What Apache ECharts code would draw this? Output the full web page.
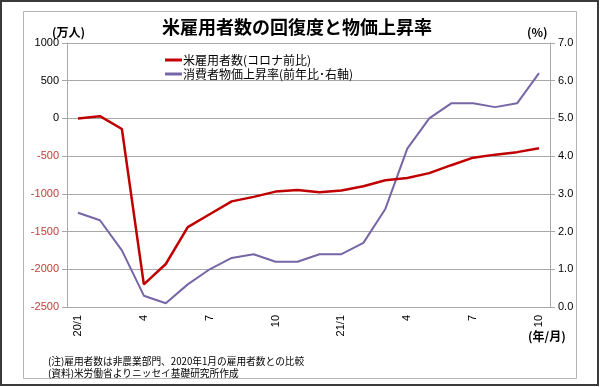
<!DOCTYPE html>
<html>
<head>
<meta charset="utf-8">
<script src="https://cdn.jsdelivr.net/npm/echarts@6/dist/echarts.min.js"></script>
<style>
html,body{margin:0;padding:0;background:#fff;}
#c{width:600px;height:387px;}
</style>
</head>
<body>
<div id="c"></div>
<script>
// ---- data ----
var categories = ["20/1","2","3","4","5","6","7","8","9","10","11","12",
                  "21/1","2","3","4","5","6","7","8","9","10"];
var employment = [0, 30, -140, -2200, -1930, -1440, -1270, -1100, -1040, -970, -950, -980,
                  -955, -900, -820, -790, -725, -620, -520, -480, -447, -394];
var cpi = [2.5, 2.3, 1.5, 0.3, 0.1, 0.6, 1.0, 1.3, 1.4, 1.2, 1.2, 1.4,
           1.4, 1.7, 2.6, 4.2, 5.0, 5.4, 5.4, 5.3, 5.4, 6.2];
var seriesNames = ["米雇用者数(コロナ前比)", "消費者物価上昇率(前年比･右軸)"];
var leftTicks = {min: -2500, max: 1000, interval: 500};
var rightTicks = {min: 0, max: 7, interval: 1};

var JP = '"Noto Sans CJK JP", sans-serif';
var NUM = '"Liberation Sans", "Noto Sans CJK JP", sans-serif';

var chart = echarts.init(document.getElementById('c'), null, {renderer: 'canvas'});
chart.setOption({
  backgroundColor: '#fff',
  animation: false,
  title: [
    {text: '米雇用者数の回復度と物価上昇率', left: 162, top: 18, padding: 0,
     textStyle: {fontFamily: JP, fontSize: 18, fontWeight: 'bold', color: '#000'}},
    {text: '(万人)', left: 52, top: 26, padding: 0,
     textStyle: {fontFamily: JP, fontSize: 12, fontWeight: 'bold', color: '#000'}},
    {text: '(%)', left: 527, top: 26, padding: 0,
     textStyle: {fontFamily: JP, fontSize: 12, fontWeight: 'bold', color: '#000'}},
    {text: '(年/月)', left: 528, top: 330, padding: 0,
     textStyle: {fontFamily: JP, fontSize: 12, fontWeight: 'bold', color: '#000'}},
    {text: '(注)雇用者数は非農業部門、2020年1月の雇用者数との比較', left: 48, top: 356, padding: 0,
     textStyle: {fontFamily: JP, fontSize: 9.7, fontWeight: 'normal', color: '#000'}},
    {text: '(資料)米労働省よりニッセイ基礎研究所作成', left: 48, top: 368, padding: 0,
     textStyle: {fontFamily: JP, fontSize: 9.7, fontWeight: 'normal', color: '#000'}}
  ],
  graphic: [
    {type: 'rect', silent: true, shape: {x: 1, y: 1, width: 597, height: 384},
     style: {fill: 'none', stroke: '#3a3a3a', lineWidth: 2}},
    {type: 'rect', silent: true, shape: {x: 23.5, y: 11.5, width: 553, height: 367},
     style: {fill: 'none', stroke: '#b4b4b4', lineWidth: 1}}
  ],
  legend: {
    orient: 'vertical', left: 165, top: 53, padding: 0,
    icon: 'rect', itemWidth: 17, itemHeight: 3, itemGap: 0,
    textStyle: {fontFamily: JP, fontSize: 12, color: '#000', padding: [0, 0, 0, -4], lineHeight: 14},
    data: seriesNames
  },
  grid: {left: 67, right: 50, top: 43, bottom: 80, containLabel: false},
  xAxis: {
    type: 'category', data: categories, boundaryGap: true,
    axisLine: {lineStyle: {color: '#a8a8a8', width: 1}},
    axisTick: {show: false},
    axisLabel: {interval: 2, rotate: 90, margin: 8, fontFamily: NUM, fontSize: 11, color: '#000'}
  },
  yAxis: [
    {type: 'value', min: leftTicks.min, max: leftTicks.max, interval: leftTicks.interval,
     axisLine: {show: true, lineStyle: {color: '#a8a8a8'}},
     axisTick: {show: true, length: 5, lineStyle: {color: '#a8a8a8'}},
     axisLabel: {margin: 8, fontFamily: NUM, fontSize: 11,
       formatter: function (v) { return String(v); },
       color: function (v) { return Number(v) < 0 ? '#c0403a' : '#000'; }},
     splitLine: {show: true, lineStyle: {color: '#a8a8a8', width: 1}}},
    {type: 'value', min: rightTicks.min, max: rightTicks.max, interval: rightTicks.interval,
     position: 'right',
     axisLine: {show: true, lineStyle: {color: '#a8a8a8'}},
     axisTick: {show: true, length: 5, lineStyle: {color: '#a8a8a8'}},
     axisLabel: {margin: 8, fontFamily: NUM, fontSize: 11, color: '#000',
       formatter: function (v) { return v.toFixed(1); }},
     splitLine: {show: false}}
  ],
  series: [
    {name: seriesNames[0], type: 'line', yAxisIndex: 0, data: employment,
     symbol: 'none', lineStyle: {color: '#c00000', width: 2.5}, itemStyle: {color: '#c00000'}, z: 3},
    {name: seriesNames[1], type: 'line', yAxisIndex: 1, data: cpi,
     symbol: 'none', lineStyle: {color: '#7766a6', width: 2}, itemStyle: {color: '#7766a6'}, z: 2}
  ]
});
</script>
</body>
</html>
